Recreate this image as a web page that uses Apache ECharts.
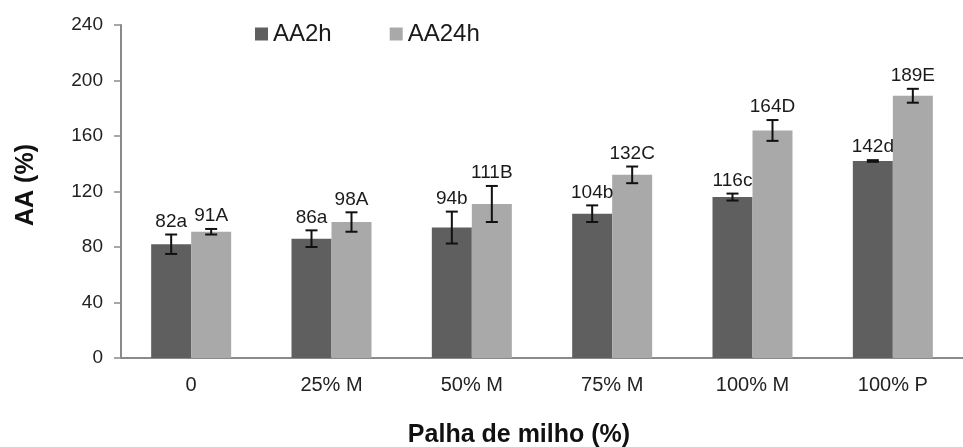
<!DOCTYPE html>
<html>
<head>
<meta charset="utf-8">
<script src="https://cdn.jsdelivr.net/npm/echarts@6/dist/echarts.min.js"></script>
<style>
  html, body { margin: 0; padding: 0; background: #fff; }
  #chart { width: 963px; height: 447px; }
</style>
</head>
<body>
<div id="chart"></div>
<script>
// Treatments (share of corn straw) and measured AA values
const categories = ['0', '25% M', '50% M', '75% M', '100% M', '100% P'];
const aa2h = [82, 86, 94, 104, 116, 142];
const aa24h = [91, 98, 111, 132, 164, 189];
// Error bar half-lengths (± around each mean)
const aa2hErr = [7, 6, 11.5, 6, 2.5, 0.6];
const aa24hErr = [2, 7, 13, 6, 7.5, 5];
// Significance letters appended to each value label
const aa2hLetters = ['a', 'a', 'b', 'b', 'c', 'd'];
const aa24hLetters = ['A', 'A', 'B', 'C', 'D', 'E'];
// Value axis range
const yMin = 0, yMax = 240, yStep = 40;

const FONT = '"Liberation Sans", Arial, sans-serif';
const DARK = '#5f5f5f';
const LIGHT = '#a9a9a9';
const BAR_W = 40;

// Error bar plus "value+letter" label above it, shifted onto its bar
function errorSeries(name, values, errs, letters, shift) {
  return {
    type: 'custom',
    name: name + ' err',
    z: 5,
    silent: true,
    data: values.map((v, i) => [i, v, errs[i]]),
    encode: { x: 0, y: 1 },
    renderItem: function (params, api) {
      const i = params.dataIndex;
      const idx = api.value(0);
      const v = api.value(1);
      const e = api.value(2);
      const top = api.coord([idx, v + e]);
      const bot = api.coord([idx, v - e]);
      const x = top[0] + shift;
      const cap = 6;
      const style = { stroke: '#111', lineWidth: 2 };
      return {
        type: 'group',
        children: [
          { type: 'line', shape: { x1: x, y1: top[1], x2: x, y2: bot[1] }, style: style },
          { type: 'line', shape: { x1: x - cap, y1: top[1], x2: x + cap, y2: top[1] }, style: style },
          { type: 'line', shape: { x1: x - cap, y1: bot[1], x2: x + cap, y2: bot[1] }, style: style },
          {
            type: 'text',
            x: x, y: top[1] - 13,
            style: {
              text: values[i] + letters[i],
              fill: '#1a1a1a',
              font: '19px ' + FONT,
              align: 'center',
              verticalAlign: 'middle'
            }
          }
        ]
      };
    }
  };
}

const chart = echarts.init(document.getElementById('chart'), null, { renderer: 'canvas' });

chart.setOption({
  backgroundColor: '#fff',
  animation: false,
  textStyle: { fontFamily: FONT },
  grid: { left: 121, top: 25, width: 852, height: 333 },
  legend: {
    left: 250,
    top: 17,
    itemWidth: 13,
    itemHeight: 13,
    itemGap: 58,
    icon: 'rect',
    textStyle: { fontSize: 24, color: '#1a1a1a', fontFamily: FONT },
    data: ['AA2h', 'AA24h']
  },
  // Axis titles
  graphic: [
    {
      type: 'text',
      x: 519, y: 435,
      style: {
        text: 'Palha de milho (%)',
        font: 'bold 25px ' + FONT,
        fill: '#111',
        align: 'center',
        verticalAlign: 'middle'
      }
    },
    {
      type: 'text',
      x: 26, y: 185,
      rotation: Math.PI / 2,
      style: {
        text: 'AA (%)',
        font: 'bold 25px ' + FONT,
        fill: '#111',
        align: 'center',
        verticalAlign: 'middle'
      }
    }
  ],
  xAxis: {
    type: 'category',
    data: categories,
    axisLine: { lineStyle: { color: '#8a8a8a', width: 2 } },
    axisTick: { show: false },
    axisLabel: { fontSize: 20, color: '#222', margin: 17, fontFamily: FONT }
  },
  yAxis: {
    type: 'value',
    min: yMin,
    max: yMax,
    interval: yStep,
    splitLine: { show: false },
    axisLine: { show: true, lineStyle: { color: '#8a8a8a', width: 2 } },
    axisTick: { show: true, length: 7, lineStyle: { color: '#8a8a8a', width: 1.5 } },
    axisLabel: { fontSize: 19, color: '#222', margin: 18, fontFamily: FONT }
  },
  series: [
    {
      name: 'AA2h',
      type: 'bar',
      data: aa2h,
      barWidth: BAR_W,
      barGap: '0%',
      itemStyle: { color: DARK }
    },
    {
      name: 'AA24h',
      type: 'bar',
      data: aa24h,
      barWidth: BAR_W,
      barGap: '0%',
      itemStyle: { color: LIGHT }
    },
    errorSeries('AA2h', aa2h, aa2hErr, aa2hLetters, -BAR_W / 2),
    errorSeries('AA24h', aa24h, aa24hErr, aa24hLetters, BAR_W / 2)
  ]
});
</script>
</body>
</html>
